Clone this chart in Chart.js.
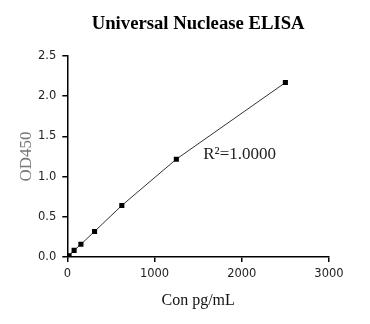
<!DOCTYPE html>
<html>
<head>
<meta charset="utf-8">
<script src="https://cdn.jsdelivr.net/npm/chart.js@4"></script>
<style>
html,body{margin:0;padding:0;background:#fff;}
#wrap{width:370px;height:324px;position:relative;}
</style>
</head>
<body>
<div id="wrap"><canvas id="c" width="370" height="324"></canvas></div>
<script>
const concentrations = [20, 78, 156, 312.5, 625, 1250, 2500];
const odValues = [0.016, 0.082, 0.158, 0.318, 0.641, 1.217, 2.17];
const xTicks = [0, 1000, 2000, 3000];
const yTicks = [0, 0.5, 1.0, 1.5, 2.0, 2.5];
const titleText = 'Universal Nuclease ELISA';
const xTitle = 'Con pg/mL';
const yTitle = 'OD450';
const r2Label = 'R\u00B2=1.0000';
const r2Anchor = {x: 1558, y: 1.27};

const points = concentrations.map((c, i) => ({x: c, y: odValues[i]}));

const r2Plugin = {
  id: 'r2',
  afterDatasetsDraw(chart) {
    const {ctx, scales} = chart;
    const px = scales.x.getPixelForValue(r2Anchor.x);
    const py = scales.y.getPixelForValue(r2Anchor.y);
    ctx.save();
    ctx.font = '17px "Liberation Serif", "Times New Roman", serif';
    ctx.fillStyle = '#222';
    ctx.textAlign = 'left';
    ctx.textBaseline = 'middle';
    ctx.fillText(r2Label, px, py);
    ctx.restore();
  }
};

new Chart(document.getElementById('c'), {
  type: 'scatter',
  data: {
    datasets: [{
      data: points,
      showLine: true,
      borderColor: '#333',
      borderWidth: 1,
      backgroundColor: '#000',
      pointBackgroundColor: '#000',
      pointBorderColor: '#000',
      pointBorderWidth: 0,
      pointStyle: 'rect',
      pointRadius: 3.6,
      tension: 0
    }]
  },
  options: {
    responsive: false,
    animation: false,
    events: [],
    layout: {padding: {left: 0, right: 41, top: 0, bottom: 0}},
    plugins: {
      legend: {display: false},
      tooltip: {enabled: false},
      title: {
        display: true,
        text: titleText,
        fullSize: false,
        color: '#000',
        font: {family: '"Liberation Serif", "Times New Roman", serif', size: 18.7, weight: 'bold'},
        padding: {top: 13, bottom: 20.6}
      }
    },
    scales: {
      x: {
        type: 'linear',
        min: 0, max: 3000,
        afterBuildTicks(scale) { scale.ticks = xTicks.map(v => ({value: v})); },
        afterFit(scale) { scale.height = 67; },
        border: {display: true, color: '#000', width: 1.5},
        grid: {display: true, drawOnChartArea: false, drawTicks: true, tickLength: 5, color: '#000', lineWidth: 1.5},
        ticks: {
          color: '#222',
          font: {family: '"DejaVu Sans", Verdana, sans-serif', size: 11.5},
          padding: 5,
          maxRotation: 0,
          callback: v => String(v)
        },
        title: {
          display: true,
          text: xTitle,
          color: '#111',
          font: {family: '"Liberation Serif", "Times New Roman", serif', size: 16},
          padding: {top: 2, bottom: 14}
        }
      },
      y: {
        type: 'linear',
        min: 0, max: 2.5,
        afterBuildTicks(scale) { scale.ticks = yTicks.map(v => ({value: v})); },
        afterFit(scale) { scale.width = 67.3; },
        border: {display: true, color: '#000', width: 1.5},
        grid: {display: true, drawOnChartArea: false, drawTicks: true, tickLength: 5, color: '#000', lineWidth: 1.5},
        ticks: {
          color: '#222',
          font: {family: '"DejaVu Sans", Verdana, sans-serif', size: 11.5},
          padding: 6,
          callback: v => Number(v).toFixed(1)
        },
        title: {
          display: true,
          text: yTitle,
          color: '#777',
          font: {family: '"Liberation Serif", "Times New Roman", serif', size: 17},
          padding: {top: 16, bottom: 4}
        }
      }
    }
  },
  plugins: [r2Plugin]
});
</script>
</body>
</html>
